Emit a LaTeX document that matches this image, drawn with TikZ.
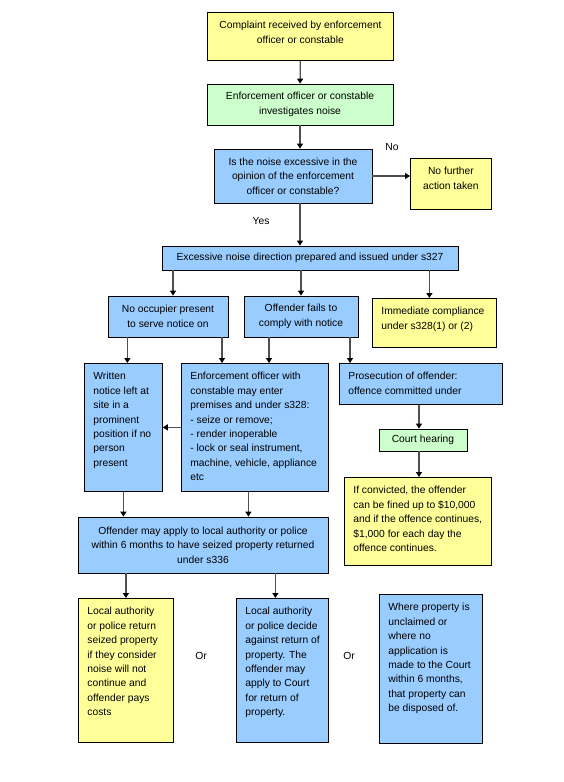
\documentclass[tikz,border=0pt]{standalone}
\usepackage{fontspec}
\setmainfont{Liberation Sans}
\usetikzlibrary{arrows.meta}
\definecolor{boxyellow}{HTML}{FFFF99}
\definecolor{boxgreen}{HTML}{CCFFCC}
\definecolor{boxblue}{HTML}{99CCFF}
\definecolor{linegray}{HTML}{505050}
\newcommand\boxtext[3]{\parbox[c][#2][t]{#1}{\leftskip=9pt\rightskip=0pt plus 1fil\parfillskip=0pt plus 1fil\relax #3}}
\newcommand\boxtextc[3]{\parbox[c][#2][t]{#1}{\centering #3}}
\tikzset{
  box/.style={draw=black, line width=0.8pt, inner sep=0pt, align=center, font=\fontsize{10.3}{14.4}\selectfont},
  yel/.style={box, fill=boxyellow},
  grn/.style={box, fill=boxgreen},
  blu/.style={box, fill=boxblue},
  topbox/.style={anchor=north west, inner xsep=0pt, inner ysep=9pt, align=left},
  word/.style={inner sep=0pt, font=\fontsize{10.3}{14.4}\selectfont},
  arr/.style={-{Triangle[length=5pt,width=6pt,color=black]}, draw=linegray, line width=1.2pt}
}

\begin{document}
\begin{tikzpicture}[x=1pt, y=-1pt]
\useasboundingbox (0,0) rectangle (563,782);
\node[yel, topbox] (complaint) at (207,12) {\boxtextc{186pt}{30pt}{Complaint received by enforcement\\officer or constable}};
\node[grn, minimum width=186, minimum height=41] (investigate) at (300,104.5) {Enforcement officer or constable\\investigates noise};
\node[blu, minimum width=158, minimum height=54] (excessive) at (293,176) {Is the noise excessive in the\\opinion of the enforcement\\officer or constable?};
\node[yel, topbox] (nofurther) at (410,158) {\boxtextc{81pt}{33pt}{No further\\action taken}};
\node[blu, minimum width=296, minimum height=24] (direction) at (310,258) {Excessive noise direction prepared and issued under s327};
\node[blu, minimum width=120, minimum height=41] (nooccupier) at (168,316.5) {No occupier present\\to serve notice on};
\node[blu, minimum width=114, minimum height=41] (fails) at (301,316.5) {Offender fails to\\comply with notice};
\node[yel, topbox] (immediate) at (372,298) {\boxtext{124pt}{31pt}{Immediate compliance\\under s328(1) or (2)}};
\node[blu, topbox] (written) at (84,363) {\boxtext{78pt}{110pt}{Written\\notice left at\\site in a\\prominent\\position if no\\person\\present}};
\node[blu, topbox] (powers) at (181,363) {\boxtext{147pt}{110pt}{Enforcement officer with\\constable may enter\\premises and under s328:\\- seize or remove;\\- render inoperable\\- lock or seal instrument,\\machine, vehicle, appliance\\etc}};
\node[blu, topbox] (prosecution) at (339,363) {\boxtext{163pt}{23pt}{Prosecution of offender:\\offence committed under}};
\node[grn, minimum width=88, minimum height=22] (court) at (423,440) {Court hearing};
\node[yel, topbox] (convicted) at (344,477) {\boxtext{147pt}{70pt}{If convicted, the offender\\can be fined up to \$10,000\\and if the offence continues,\\\$1,000 for each day the\\offence continues.}};
\node[blu, minimum width=250, minimum height=56] (apply) at (203,545) {Offender may apply to local authority or police\\within 6 months to have seized property returned\\under s336};
\node[yel, topbox] (returned) at (78,598) {\boxtext{95pt}{126pt}{Local authority\\or police return\\seized property\\if they consider\\noise will not\\continue and\\offender pays\\costs}};
\node[blu, topbox] (refused) at (236,598) {\boxtext{92pt}{126pt}{Local authority\\or police decide\\against return of\\property. The\\offender may\\apply to Court\\for return of\\property.}};
\node[blu, topbox] (disposed) at (379,594) {\boxtext{103pt}{131pt}{Where property is\\unclaimed or\\where no\\application is\\made to the Court\\within 6 months,\\that property can\\be disposed of.}};
\node[word] (no) at (392,147) {No};
\node[word] (yes) at (261,221) {Yes};
\node[word] (or1) at (201,656) {Or};
\node[word] (or2) at (349,656) {Or};
\draw[arr] (complaint) -- (investigate);
\draw[arr] (investigate.south) -- (investigate.south |- excessive.north);
\draw[arr] (excessive.east) -- (excessive.east -| nofurther.west);
\draw[arr] (excessive.south -| investigate.south) -- (investigate.south |- direction.north);
\draw[arr] ([xshift=5pt]nooccupier.north |- direction.south) -- ([xshift=5pt]nooccupier.north);
\draw[arr] (fails.north |- direction.south) -- (fails.north);
\draw[arr] ([xshift=-5pt]immediate.north |- direction.south) -- ([xshift=-5pt]immediate.north);
\draw[arr] ([xshift=4pt]written.north |- nooccupier.south) -- ([xshift=4pt]written.north);
\draw[arr] ([xshift=41pt]powers.north west |- nooccupier.south) -- ([xshift=41pt]powers.north west);
\draw[arr] ([xshift=88pt]powers.north west |- fails.south) -- ([xshift=88pt]powers.north west);
\draw[arr] ([xshift=11pt]prosecution.north west |- fails.south) -- ([xshift=11pt]prosecution.north west);
\draw[arr] (powers.west) -- (written.east);
\draw[arr] ([xshift=-4pt]court.north |- prosecution.south) -- ([xshift=-4pt]court.north);
\draw[arr] ([xshift=-4pt]court.south) -- ([xshift=-4pt]court.south |- convicted.north);
\draw[arr] (written.south) -- (written.south |- apply.north);
\draw[arr] ([xshift=-6.5pt]powers.south) -- ([xshift=-6.5pt]powers.south |- apply.north);
\draw[arr] (returned.north |- apply.south) -- (returned.north);
\draw[arr] ([xshift=-7pt]refused.north |- apply.south) -- ([xshift=-7pt]refused.north);
\end{tikzpicture}
\end{document}
